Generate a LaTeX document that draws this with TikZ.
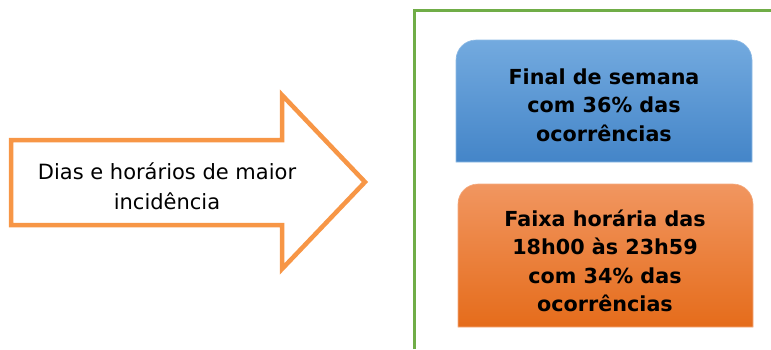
\documentclass[tikz,border=0pt]{standalone}
\usepackage{fontspec}
\setmainfont{DejaVu Sans}
\usepackage{tikz}
\usetikzlibrary{backgrounds}

\definecolor{setalaranja}{HTML}{F79646}
\definecolor{quadroverde}{HTML}{70AD47}
\definecolor{azultopo}{HTML}{73AADF}
\definecolor{azulbase}{HTML}{4485C8}
\definecolor{laranjatopo}{HTML}{F19660}
\definecolor{laranjabase}{HTML}{E56C1B}

\begin{document}
\begin{tikzpicture}[x=1pt, y=-1pt,
        rotulo/.style={font=\fontsize{21}{30}\selectfont, align=center, inner sep=0pt},
        destaque/.style={font=\fontsize{20.7}{28.5}\selectfont\bfseries, align=center, inner sep=0pt},
    ]
        \def\raio{20}
        \useasboundingbox (0,0) rectangle (771,349);

        % quadro verde, cortado pela borda
        \draw[quadroverde, line width=3pt] (414,349) -- (414,10) -- (771,10);

        % seta
        \draw[setalaranja, line width=4.5pt, fill=white, miter limit=20]
            (11,140) -- (282,140) -- (282,95) -- (365,182) -- (282,269) -- (282,225) -- (11,225) -- cycle;
        \node[rotulo] (seta) at (167,186) {Dias e horários de maior\\incidência};

        % caixas
        \node[destaque] (semana) at (604,105) {Final de semana\\com 36\% das\\ocorrências};
        \node[destaque] (faixa) at (605,261) {Faixa horária das\\18h00 às 23h59\\com 34\% das\\ocorrências};

        \begin{pgfonlayer}{background}
            \shade[top color=azultopo, bottom color=azulbase, draw=azultopo!80!white, line width=0.6pt]
                (456,162) [rounded corners=\raio] -- (456,40) -- (752,40) [sharp corners] -- (752,162) -- cycle;
            \shade[top color=laranjatopo, bottom color=laranjabase, draw=laranjatopo!80!white, line width=0.6pt]
                (458,327) [rounded corners=\raio] -- (458,184) -- (753,184) [sharp corners] -- (753,327) -- cycle;
        \end{pgfonlayer}
\end{tikzpicture}
\end{document}
